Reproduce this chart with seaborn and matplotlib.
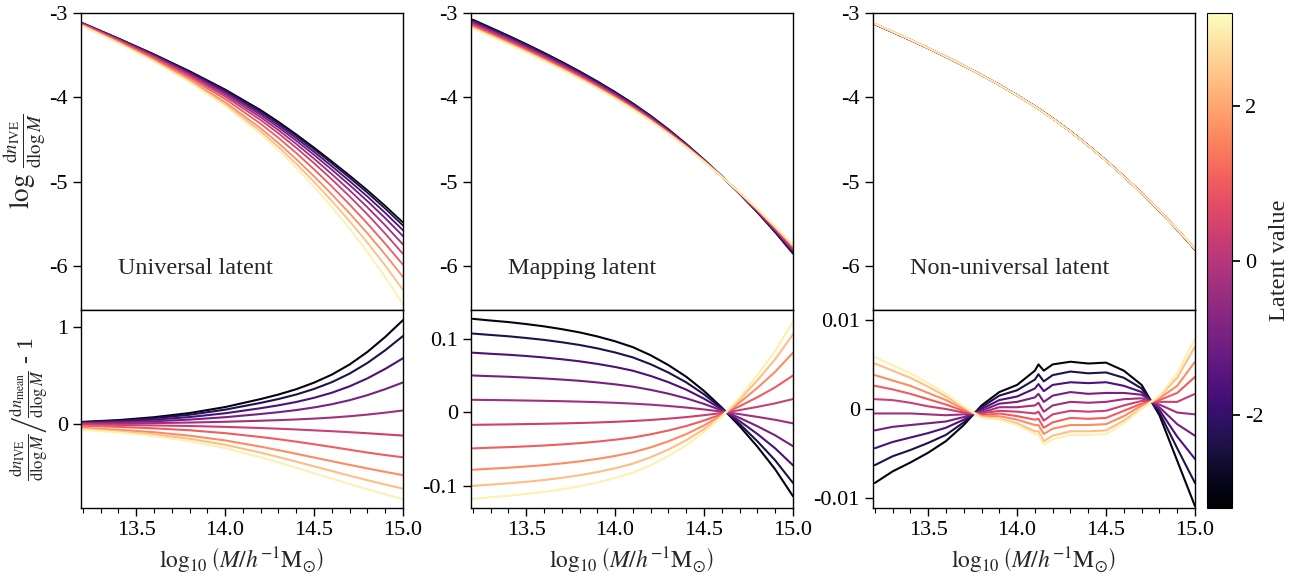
import numpy as np
import pandas as pd
import matplotlib
matplotlib.use("Agg")
import matplotlib.pyplot as plt
import seaborn as sns
from matplotlib.ticker import MultipleLocator, FuncFormatter

# latent values of the plotted curves (colour-coded)
latent = [-3.0, -2.33, -1.67, -1.0, -0.33, 0.33, 1.0, 1.67, 2.33, 3.0]

# mean log mass function
mass_fine = [13.2, 13.3, 13.4, 13.5, 13.6, 13.7, 13.8, 13.9, 14.0, 14.1,
             14.2, 14.3, 14.4, 14.5, 14.6, 14.7, 14.8, 14.9, 15.0]
mean_log_dndm = [-3.130, -3.223, -3.318, -3.416, -3.518, -3.624, -3.735, -3.852,
                 -3.976, -4.107, -4.250, -4.405, -4.572, -4.750, -4.938, -5.135,
                 -5.343, -5.565, -5.800]

# universal latent: ratio to mean - 1
mass_univ = [13.2, 13.4, 13.6, 13.8, 14.0, 14.2, 14.3, 14.4, 14.5, 14.6, 14.7, 14.8, 14.9, 15.0]
ratio_univ = [
    [0.022, 0.04, 0.07, 0.113, 0.175, 0.258, 0.305, 0.36, 0.428, 0.511, 0.616, 0.746, 0.901, 1.075],
    [0.0186, 0.0339, 0.0593, 0.0957, 0.148, 0.2185, 0.2583, 0.305, 0.3625, 0.4328, 0.5218, 0.6319, 0.7631, 0.9105],
    [0.0139, 0.0253, 0.0443, 0.0715, 0.1108, 0.1633, 0.1931, 0.2279, 0.2709, 0.3235, 0.3899, 0.4722, 0.5703, 0.6805],
    [0.0088, 0.016, 0.028, 0.0452, 0.07, 0.1032, 0.122, 0.144, 0.1712, 0.2044, 0.2464, 0.2984, 0.3604, 0.43],
    [0.0029, 0.0052, 0.0091, 0.0147, 0.0228, 0.0335, 0.0397, 0.0468, 0.0556, 0.0664, 0.0801, 0.097, 0.1171, 0.1398],
    [-0.006, -0.01, -0.015, -0.021, -0.03, -0.042, -0.049, -0.057, -0.066, -0.075, -0.085, -0.096, -0.108, -0.12],
    [-0.018, -0.03, -0.045, -0.065, -0.095, -0.135, -0.158, -0.183, -0.21, -0.238, -0.267, -0.296, -0.322, -0.345],
    [-0.0409, -0.0599, -0.0851, -0.1212, -0.1703, -0.235, -0.271, -0.3085, -0.3473, -0.3854, -0.4236, -0.4604, -0.4958, -0.53],
    [-0.0517, -0.0758, -0.1076, -0.1533, -0.2153, -0.297, -0.3427, -0.39, -0.4391, -0.4873, -0.5355, -0.582, -0.6268, -0.67],
    [-0.06, -0.088, -0.125, -0.178, -0.25, -0.345, -0.398, -0.453, -0.51, -0.566, -0.622, -0.676, -0.728, -0.778],
]

# mapping latent
mass_map = mass_fine
ratio_map = [
    [0.127, 0.1247, 0.1226, 0.1199, 0.1168, 0.1130, 0.1086, 0.1031, 0.0965, 0.0885,
     0.0775, 0.0641, 0.0483, 0.0290, 0.0064, -0.0188, -0.0467, -0.0775, -0.114],
    [0.107, 0.1051, 0.1033, 0.1010, 0.0984, 0.0952, 0.0915, 0.0869, 0.0813, 0.0746,
     0.0653, 0.0540, 0.0407, 0.0244, 0.0054, -0.0158, -0.0394, -0.0653, -0.096],
    [0.081, 0.0795, 0.0782, 0.0765, 0.0745, 0.0721, 0.0693, 0.0658, 0.0616, 0.0565,
     0.0494, 0.0409, 0.0308, 0.0185, 0.0041, -0.0119, -0.0295, -0.049, -0.072],
    [0.050, 0.0491, 0.0483, 0.0472, 0.046, 0.0445, 0.0428, 0.0406, 0.038, 0.0349,
     0.0305, 0.0253, 0.019, 0.0114, 0.0025, -0.0076, -0.0189, -0.0313, -0.046],
    [0.017, 0.0167, 0.0164, 0.0160, 0.0156, 0.0151, 0.0145, 0.0138, 0.0129, 0.0118,
     0.0104, 0.0086, 0.0065, 0.0039, 0.0009, -0.0025, -0.0062, -0.0102, -0.015],
    [-0.017, -0.0167, -0.0164, -0.0160, -0.0156, -0.0151, -0.0145, -0.0138, -0.0129, -0.0118,
     -0.0104, -0.0086, -0.0065, -0.0039, -0.0009, 0.003, 0.0074, 0.0122, 0.018],
    [-0.049, -0.0481, -0.0473, -0.0463, -0.0451, -0.0436, -0.0419, -0.0398, -0.0372, -0.0342,
     -0.0299, -0.0247, -0.0186, -0.0112, -0.0025, 0.0083, 0.0205, 0.034, 0.050],
    [-0.078, -0.0766, -0.0753, -0.0736, -0.0718, -0.0694, -0.0667, -0.0633, -0.0593, -0.0544,
     -0.0476, -0.0394, -0.0296, -0.0178, -0.0039, 0.0134, 0.0332, 0.0551, 0.081],
    [-0.100, -0.0982, -0.0965, -0.0944, -0.092, -0.089, -0.0855, -0.0812, -0.076, -0.0697,
     -0.061, -0.0505, -0.038, -0.0228, -0.005, 0.0175, 0.0435, 0.0721, 0.106],
    [-0.1175, -0.1154, -0.1134, -0.1109, -0.1081, -0.1046, -0.1005, -0.0954, -0.0893, -0.0819,
     -0.0717, -0.0593, -0.0447, -0.0268, -0.0059, 0.0203, 0.0504, 0.0836, 0.123],
]

# non-universal latent
mass_nonu = [13.2, 13.3, 13.4, 13.5, 13.6, 13.7, 13.8, 13.9, 14.0, 14.1, 14.12, 14.15,
             14.2, 14.3, 14.4, 14.5, 14.6, 14.7, 14.8, 14.9, 15.0]
ratio_nonu = [
    [-0.0083, -0.0070, -0.0060, -0.0049, -0.0036, -0.0018, 0.0004, 0.0019, 0.0027, 0.0043, 0.0050,
     0.0043, 0.0050, 0.0053, 0.0051, 0.0052, 0.0043, 0.0027, -0.0007, -0.0058, -0.0109],
    [-0.0063, -0.0053, -0.0046, -0.0038, -0.0029, -0.0015, 0.0002, 0.0015, 0.0021, 0.0033, 0.0039,
     0.0031, 0.0038, 0.0042, 0.0040, 0.0041, 0.0035, 0.0023, -0.0004, -0.0044, -0.0083],
    [-0.0044, -0.0037, -0.0032, -0.0027, -0.0021, -0.0012, 0.0000, 0.0010, 0.0014, 0.0023, 0.0028,
     0.0020, 0.0027, 0.0030, 0.0029, 0.0030, 0.0026, 0.0019, -0.0001, -0.0031, -0.0056],
    [-0.0024, -0.0020, -0.0018, -0.0016, -0.0014, -0.0009, -0.0002, 0.0006, 0.0008, 0.0013, 0.0017,
     0.0008, 0.0015, 0.0019, 0.0017, 0.0018, 0.0018, 0.0016, 0.0002, -0.0017, -0.0030],
    [-0.0005, -0.0005, -0.0005, -0.0006, -0.0007, -0.0006, -0.0004, 0.0002, 0.0002, 0.0004, 0.0007,
     -0.0003, 0.0004, 0.0008, 0.0007, 0.0008, 0.0011, 0.0012, 0.0005, -0.0004, -0.0006],
    [0.0011, 0.0010, 0.0007, 0.0003, 0.0000, -0.0004, -0.0005, -0.0002, -0.0003, -0.0005, -0.0003,
     -0.0013, -0.0006, -0.0002, -0.0003, -0.0002, 0.0004, 0.0009, 0.0008, 0.0008, 0.0017],
    [0.0026, 0.0022, 0.0017, 0.0011, 0.0005, -0.0002, -0.0007, -0.0005, -0.0008, -0.0012, -0.0011,
     -0.0021, -0.0015, -0.0010, -0.0011, -0.0010, -0.0002, 0.0006, 0.0010, 0.0018, 0.0036],
    [0.0038, 0.0032, 0.0026, 0.0018, 0.0010, 0.0000, -0.0008, -0.0008, -0.0012, -0.0018, -0.0018,
     -0.0028, -0.0022, -0.0018, -0.0018, -0.0017, -0.0008, 0.0004, 0.0012, 0.0026, 0.0053],
    [0.0051, 0.0043, 0.0035, 0.0025, 0.0014, 0.0002, -0.0009, -0.0011, -0.0016, -0.0025, -0.0025,
     -0.0036, -0.0030, -0.0025, -0.0025, -0.0024, -0.0013, 0.0001, 0.0014, 0.0035, 0.0070],
    [0.0058, 0.0049, 0.0040, 0.0029, 0.0017, 0.0003, -0.0010, -0.0012, -0.0018, -0.0028, -0.0029,
     -0.0040, -0.0034, -0.0029, -0.0029, -0.0028, -0.0016, 0.0000, 0.0015, 0.0040, 0.0079],
]

panel_names = ["Universal latent", "Mapping latent", "Non-universal latent"]
bottom_ylims = [(-0.87, 1.18), (-0.130, 0.139), (-0.0111, 0.0111)]
bottom_ticks = [[0, 1], [-0.1, 0, 0.1], [-0.01, 0, 0.01]]
top_ticks = [-3, -4, -5, -6]


def long_frame(mass, ratios):
    rows = []
    for lat, r in zip(latent, ratios):
        for m, v in zip(mass, r):
            rows.append((m, lat, v))
    df = pd.DataFrame(rows, columns=["mass", "latent", "ratio"])
    mean_s = pd.Series(mean_log_dndm, index=np.round(mass_fine, 2))
    df["log_dndm"] = mean_s.reindex(np.round(df["mass"], 2)).values + np.log10(1 + df["ratio"])
    return df


frames = [long_frame(mass_univ, ratio_univ),
          long_frame(mass_map, ratio_map),
          long_frame(mass_nonu, ratio_nonu)]

sns.set_theme(style="ticks")
plt.rcParams["font.family"] = ["Liberation Serif", "DejaVu Serif"]
plt.rcParams["mathtext.fontset"] = "stix"
plt.rcParams["axes.unicode_minus"] = False
plt.rcParams["axes.edgecolor"] = "black"
plt.rcParams["axes.linewidth"] = 1.0
plt.rcParams["xtick.color"] = "black"
plt.rcParams["ytick.color"] = "black"
plt.rcParams["font.size"] = 16

norm = plt.Normalize(-3.2, 3.2)
fig = plt.figure(figsize=(12.93, 5.82), dpi=100)

W, H = 1293.0, 582.0
col_x = [81, 471, 873]
col_w = 322
top_y0, top_y1, bot_y1 = 13, 310, 508

fmt = FuncFormatter(lambda v, _: f"{v:g}")

for i in range(3):
    ax_top = fig.add_axes([col_x[i] / W, 1 - top_y1 / H, col_w / W, (top_y1 - top_y0) / H])
    ax_bot = fig.add_axes([col_x[i] / W, 1 - bot_y1 / H, col_w / W, (bot_y1 - top_y1) / H])
    df = frames[i]
    sns.lineplot(data=df.dropna(subset=["log_dndm"]), x="mass", y="log_dndm", hue="latent",
                 palette="magma", hue_norm=norm, legend=False, lw=1.3, ax=ax_top)
    sns.lineplot(data=df, x="mass", y="ratio", hue="latent",
                 palette="magma", hue_norm=norm, legend=False, lw=1.5, ax=ax_bot)

    for ax in (ax_top, ax_bot):
        ax.set_xlim(13.19, 15.0)
        ax.set_xlabel("")
        ax.set_ylabel("")
        ax.tick_params(axis="both", which="both", direction="out", labelsize=16)
        ax.tick_params(axis="y", which="major", length=6, width=1)
        ax.yaxis.set_major_formatter(fmt)

    ax_top.set_ylim(-6.52, -3.0)
    ax_top.set_yticks(top_ticks)
    ax_top.tick_params(axis="x", which="both", bottom=False, labelbottom=False)
    ax_top.text(0.115, 0.141, panel_names[i], transform=ax_top.transAxes,
                fontsize=17.5, va="center", ha="left")

    ax_bot.set_ylim(*bottom_ylims[i])
    ax_bot.set_yticks(bottom_ticks[i])
    ax_bot.xaxis.set_major_locator(MultipleLocator(0.5))
    ax_bot.xaxis.set_minor_locator(MultipleLocator(0.1))
    ax_bot.tick_params(axis="x", which="major", length=6, width=1)
    ax_bot.tick_params(axis="x", which="minor", length=3.5, width=0.8)
    ax_bot.xaxis.set_major_formatter(FuncFormatter(lambda v, _: f"{v:.1f}"))
    ax_bot.set_xlabel(r"$\log_{10}\left(M/h^{-1}\mathrm{M}_{\odot}\right)$", fontsize=17)

    if i == 0:
        ax_top.set_ylabel(r"$\log\,\frac{\mathrm{d}n_{\mathrm{IVE}}}{\mathrm{d}\log M}$",
                          fontsize=19.5, labelpad=1)
        ax_bot.set_ylabel(r"$\frac{\mathrm{d}n_{\mathrm{IVE}}}{\mathrm{d}\log M}\left/\frac{\mathrm{d}n_{\mathrm{mean}}}{\mathrm{d}\log M}\right.$ - 1",
                          fontsize=17)

cax = fig.add_axes([1207 / W, 1 - bot_y1 / H, 25 / W, (bot_y1 - top_y0) / H])
sm = plt.cm.ScalarMappable(norm=norm, cmap="magma")
cb = fig.colorbar(sm, cax=cax)
cb.set_ticks([-2, 0, 2])
cb.ax.yaxis.set_major_formatter(fmt)
cb.ax.tick_params(labelsize=16, length=6)
cb.outline.set_linewidth(0.8)
cb.set_label("Latent value", fontsize=17.5)

fig.savefig("out.png", dpi=100)
